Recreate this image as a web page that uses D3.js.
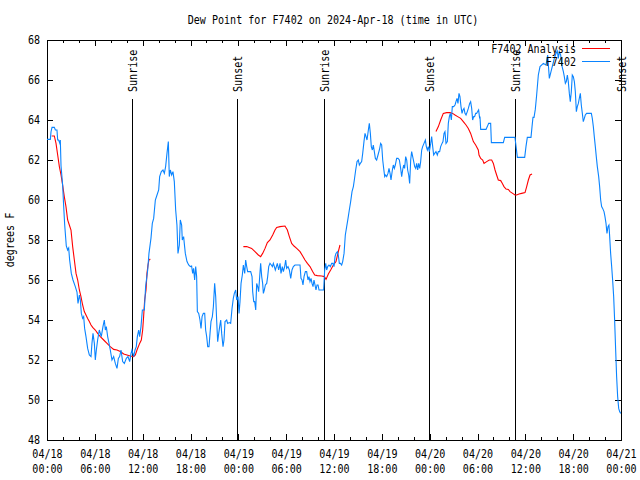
<!DOCTYPE html>
<html><head><meta charset="utf-8">
<script src="https://cdn.jsdelivr.net/npm/d3@7"></script>
<style>body{margin:0;background:#fff}svg{display:block}</style>
</head><body><svg id="c" width="640" height="480"></svg>
<script>
const chartTitle = "Dew Point for F7402 on 2024-Apr-18 (time in UTC)";
const yAxisLabel = "degrees F";
const startTime = Date.UTC(2024, 3, 18, 0, 0, 0);
const seriesNames = ["F7402 Analysis", "F7402"];
const seriesColors = ["#ff0000", "#0a84ff"];

// F7402 observations: hours since 04/18 00:00 UTC, dew point (F)
const obsHours = [0.00,0.42,0.50,0.63,0.92,1.05,1.25,1.34,1.46,1.59,1.67,1.76,1.96,2.09,2.22,2.42,2.59,2.72,2.84,3.05,3.26,3.55,3.76,3.89,4.06,4.18,4.31,4.47,4.60,4.72,4.89,5.10,5.31,5.52,5.64,5.77,5.94,6.06,6.19,6.35,6.56,6.81,7.02,7.19,7.32,7.44,7.61,7.78,7.94,8.15,8.36,8.57,8.78,8.95,9.11,9.28,9.49,9.70,9.95,10.16,10.37,10.54,10.66,10.87,11.04,11.20,11.33,11.50,11.62,11.79,11.96,12.21,12.37,12.63,12.79,13.04,13.21,13.38,13.59,13.80,14.01,14.13,14.34,14.55,14.72,14.88,15.05,15.22,15.34,15.47,15.64,15.80,15.97,16.14,16.30,16.43,16.60,16.72,16.89,16.97,17.14,17.22,17.35,17.56,17.77,17.98,18.14,18.27,18.39,18.52,18.65,18.77,18.86,19.03,19.19,19.32,19.45,19.61,19.78,19.90,20.03,20.16,20.32,20.45,20.57,20.74,20.87,21.03,21.16,21.28,21.41,21.54,21.66,21.79,21.91,22.08,22.20,22.33,22.54,22.66,22.87,23.04,23.21,23.37,23.50,23.67,23.79,23.96,24.09,24.21,24.34,24.50,24.63,24.80,24.92,25.05,25.17,25.34,25.55,25.72,25.80,25.93,26.05,26.18,26.30,26.43,26.55,26.68,26.80,26.93,27.05,27.14,27.26,27.39,27.56,27.68,27.81,27.97,28.14,28.27,28.39,28.52,28.64,28.77,28.89,29.06,29.23,29.35,29.52,29.65,29.81,29.94,30.06,30.23,30.40,30.57,30.73,30.90,31.11,31.32,31.53,31.74,31.86,31.99,32.11,32.24,32.41,32.57,32.74,32.86,32.99,33.12,33.24,33.37,33.49,33.62,33.74,33.87,34.00,34.12,34.33,34.54,34.70,34.83,34.96,35.08,35.21,35.37,35.54,35.71,35.87,36.00,36.13,36.25,36.42,36.54,36.67,36.80,36.96,37.09,37.26,37.42,37.59,37.76,37.92,38.09,38.26,38.43,38.55,38.72,38.89,39.05,39.18,39.30,39.47,39.60,39.76,39.89,40.02,40.14,40.31,40.43,40.56,40.68,40.81,40.93,41.06,41.19,41.35,41.52,41.69,41.85,41.98,42.11,42.23,42.36,42.48,42.61,42.77,42.90,43.03,43.15,43.32,43.44,43.57,43.69,43.86,44.03,44.20,44.36,44.49,44.61,44.74,44.86,44.99,45.12,45.24,45.37,45.49,45.62,45.74,45.87,46.00,46.12,46.25,46.37,46.50,46.62,46.75,46.87,47.00,47.12,47.29,47.46,47.58,47.71,47.83,47.96,48.13,48.25,48.38,48.50,48.63,48.79,48.96,49.09,49.25,49.38,49.55,49.67,49.80,49.92,50.05,50.22,50.34,50.47,50.59,50.72,50.84,51.01,51.18,51.30,51.43,51.55,51.68,51.80,51.93,52.06,52.18,52.31,52.43,52.56,52.72,52.85,53.02,53.14,53.27,53.39,53.52,53.64,53.77,53.89,54.02,54.14,54.27,54.31,54.40,54.73,55.07,55.23,55.40,55.65,55.74,56.20,56.82,57.24,57.41,57.87,58.29,58.70,58.83,59.00,59.41,59.92,60.08,60.25,60.50,60.71,60.84,60.96,61.09,61.25,61.42,61.63,61.84,62.26,62.59,62.80,63.01,63.22,63.43,63.64,63.85,64.01,64.14,64.26,64.43,64.56,64.77,64.89,65.02,65.14,65.27,65.39,65.52,65.64,65.77,65.89,66.02,66.15,66.27,66.40,66.52,66.65,66.77,66.90,67.02,67.15,67.27,67.40,67.52,67.69,67.90,68.11,68.28,68.40,68.53,68.65,68.78,68.90,69.03,69.20,69.32,69.45,69.57,69.70,69.87,69.99,70.12,70.24,70.37,70.49,70.58,70.70,70.83,70.95,71.08,71.20,71.33,71.45,71.58,71.71,71.83,71.96];
const obsDew = [63.03,63.03,63.4,63.63,63.63,63.5,63.5,63.0,63.0,62.85,63.0,61.7,60.75,59.7,58.75,57.7,57.5,57.6,57.0,56.33,56.0,55.67,55.4,54.83,55.25,55.0,54.33,54.08,54.17,53.58,53.17,52.58,52.25,52.17,52.83,53.33,52.83,52.0,52.5,53.0,53.5,53.17,53.67,54.0,53.5,53.67,53.17,52.83,52.5,52.0,52.17,51.83,51.58,52.08,52.17,52.5,51.92,51.83,52.08,52.17,51.92,52.33,52.5,52.17,52.5,52.67,53.17,53.5,53.17,53.67,54.5,54.5,55.67,56.5,57.33,58.08,58.83,59.08,60.0,60.25,60.5,61.17,61.42,61.5,61.33,61.67,62.33,62.92,61.17,61.5,61.25,61.42,60.92,59.5,58.75,57.33,57.75,59.0,58.75,58.0,58.17,57.83,57.33,56.92,56.75,56.67,56.7,56.33,56.58,56.0,56.67,56.17,54.42,54.33,54.0,53.58,54.17,54.33,54.33,53.5,53.17,52.67,52.67,53.33,53.92,54.17,54.67,55.83,55.17,54.0,52.92,53.33,53.67,54.0,53.33,52.67,53.0,53.92,54.0,53.83,53.87,53.83,54.58,55.08,55.33,55.5,55.0,55.17,54.33,54.92,55.83,56.25,56.75,56.33,57.0,56.67,56.42,56.42,56.42,56.17,55.42,54.92,54.92,54.5,55.83,55.67,55.42,56.17,56.83,56.17,55.83,55.33,55.5,55.75,55.83,56.17,56.67,56.83,56.75,56.67,56.83,56.67,56.5,56.67,56.83,56.5,56.83,56.33,56.67,56.42,56.67,57.0,56.58,56.67,56.5,56.08,56.5,56.67,56.75,56.75,56.75,56.75,56.08,56.0,55.75,56.17,56.42,56.42,56.0,56.17,55.92,56.08,55.83,55.67,56.0,55.75,55.5,55.75,55.75,55.5,55.5,55.5,55.5,56.5,56.83,56.5,56.67,56.75,56.67,56.83,56.83,56.67,57.17,57.33,57.42,57.25,56.83,56.83,56.75,56.92,57.33,58.25,58.67,59.08,59.5,59.92,60.42,60.67,61.0,61.5,61.92,62.0,61.75,61.83,61.92,62.33,62.92,63.33,63.17,63.0,63.5,63.83,63.33,62.67,62.5,62.75,62.42,62.08,62.0,62.25,62.5,62.83,62.75,62.0,61.58,61.17,61.25,61.17,61.33,61.58,61.33,61.0,61.5,61.75,61.58,61.75,62.08,62.08,62.0,61.58,61.17,61.5,61.75,61.58,62.17,62.0,61.5,61.25,60.83,62.0,62.42,62.17,61.92,61.67,61.58,61.83,61.5,61.83,61.58,61.92,62.5,62.67,62.83,63.0,62.67,62.5,62.67,62.42,62.83,63.17,62.67,62.25,62.33,62.42,62.25,62.42,62.42,62.67,62.83,62.92,63.33,63.42,62.83,62.92,63.83,64.17,64.33,64.0,64.67,64.67,64.75,64.92,65.08,64.83,65.33,65.17,64.67,64.33,64.5,64.58,64.33,64.25,64.42,64.58,64.83,64.92,64.58,64.0,64.17,64.17,64.33,64.33,64.42,64.5,64.08,64.17,63.53,63.53,63.53,63.67,63.83,63.83,62.87,62.87,62.87,62.87,63.13,63.13,63.13,63.13,62.7,62.13,62.13,62.13,62.67,63.13,63.13,63.13,63.67,64.13,64.13,64.53,65.25,66.25,66.67,66.83,66.75,67.25,66.08,66.42,66.75,67.08,67.33,67.45,67.08,67.42,67.25,66.75,66.42,66.17,65.83,65.92,66.25,65.92,65.33,64.92,65.42,66.25,66.17,65.92,65.42,64.42,64.67,64.83,65.08,65.33,64.75,64.33,63.92,64.08,64.25,64.33,64.33,64.33,64.33,64.08,63.67,63.17,62.67,62.17,61.67,61.17,60.67,60.0,59.67,59.58,59.42,59.17,58.83,58.33,58.67,58.75,58.17,57.33,56.67,56.0,55.17,54.0,52.5,51.17,50.17,49.58,49.42,49.33];

// F7402 Analysis (null = gap between analysis runs)
const anaHours = [0.59,0.92,1.13,1.34,1.55,1.76,1.96,2.17,2.38,2.59,2.80,3.01,3.22,3.43,3.64,3.85,4.06,4.26,4.47,4.68,4.89,5.10,5.31,5.52,5.73,6.06,6.35,6.69,7.11,7.53,7.94,8.36,8.78,9.20,9.62,10.03,10.45,10.87,11.08,11.29,11.62,11.83,12.00,12.12,12.25,12.42,12.54,12.67,12.79,12.96,
 null,
 24.63,25.05,25.67,26.09,26.51,26.80,27.05,27.35,27.64,27.97,28.31,28.60,28.81,29.23,29.85,30.15,30.40,30.69,30.98,31.32,31.74,32.07,32.36,32.66,32.99,33.32,33.58,33.91,34.45,34.79,35.00,35.29,35.58,35.92,36.25,36.54,36.75,
 null,
 48.79,49.09,49.38,49.71,50.13,50.55,50.88,51.18,51.51,51.89,52.22,52.56,52.85,53.14,53.48,53.77,54.10,54.19,54.40,54.65,54.82,55.15,55.48,55.78,55.99,56.20,56.40,56.61,56.91,57.12,57.32,57.58,57.87,58.08,58.41,58.70,58.91,59.21,59.54,59.96,60.17,60.38,60.59,60.84];
const anaDew = [63.2,63.2,62.83,62.25,61.67,61.25,60.75,60.17,59.67,59.0,58.75,58.5,57.67,57.0,56.33,56.0,55.5,55.17,54.75,54.42,54.25,54.08,53.92,53.75,53.63,53.5,53.33,53.17,53.0,52.83,52.67,52.53,52.5,52.42,52.3,52.25,52.2,52.17,52.25,52.5,52.83,53.0,53.5,54.17,55.0,55.5,56.33,56.75,57.0,57.05,
 null,
 57.67,57.67,57.58,57.42,57.25,57.17,57.33,57.58,57.87,58.0,58.25,58.5,58.63,58.67,58.7,58.5,58.17,57.83,57.7,57.58,57.42,57.2,57.0,56.83,56.67,56.42,56.25,56.22,56.2,56.17,56.03,56.3,56.5,56.75,56.92,57.42,57.75,
 null,
 63.42,63.67,64.0,64.33,64.37,64.37,64.33,64.25,64.17,64.08,63.92,63.75,63.58,63.33,62.92,62.75,62.5,62.25,62.08,62.0,61.83,61.92,62.0,62.0,61.83,61.5,61.25,61.0,60.97,60.83,60.67,60.55,60.53,60.42,60.33,60.25,60.25,60.3,60.33,60.37,60.67,61.0,61.25,61.3];

// Sunrise / sunset markers
const sunLabels = ["Sunrise","Sunset","Sunrise","Sunset","Sunrise","Sunset"];
const sunHours = [10.70, 23.87, 34.79, 47.96, 58.75, 72.0];

const yTickValues = [48,50,52,54,56,58,60,62,64,66,68];
const xMajorHours = [0,6,12,18,24,30,36,42,48,54,60,66,72];
const xMinorHours = [2,4,8,10,14,16,20,22,26,28,32,34,38,40,44,46,50,52,56,58,62,64,68,70];

const FONT = "'DejaVu Sans Mono','Liberation Mono',monospace";
const FS = 11.5;
const SX = 0.875; // horizontal squeeze to mimic narrow bitmap font
const toDate = h => new Date(startTime + h * 3600000);

const L = 47, R = 621, T = 40, B = 440;
const svg = d3.select("#c");
const x = d3.scaleUtc().domain([toDate(0), toDate(72)]).range([L, R]);
const y = d3.scaleLinear().domain([48, 68]).range([B, T]);

const fmtD = d3.utcFormat("%m/%d"), fmtT = d3.utcFormat("%H:%M");

function styleAxis(g) {
  g.attr("font-family", FONT).attr("font-size", FS);
  g.select(".domain").remove();
  g.selectAll(".tick line").attr("stroke", "#000").attr("shape-rendering", "crispEdges");
  g.selectAll(".tick text").attr("fill", "#000");
}
function squeeze(sel, tx, ty) {
  return sel.attr("transform", `translate(${tx},${ty}) scale(${SX},1)`);
}

// bottom major with labels
svg.append("g").attr("transform", `translate(0,${B})`)
  .call(d3.axisBottom(x).tickValues(xMajorHours.map(toDate)).tickSize(-6).tickPadding(0))
  .call(styleAxis)
  .call(g => g.selectAll(".tick text").each(function(d) {
    const t = d3.select(this);
    t.text(null).attr("y", null).attr("dy", null).attr("transform", `scale(${SX},1)`);
    t.append("tspan").attr("x", 0).attr("y", 18).text(fmtD(d));
    t.append("tspan").attr("x", 0).attr("y", 33).text(fmtT(d));
  }));
// bottom minor
svg.append("g").attr("transform", `translate(0,${B})`)
  .call(d3.axisBottom(x).tickValues(xMinorHours.map(toDate)).tickSize(-3).tickFormat(""))
  .call(styleAxis);
// top major/minor
svg.append("g").attr("transform", `translate(0,${T})`)
  .call(d3.axisTop(x).tickValues(xMajorHours.map(toDate)).tickSize(-6).tickFormat(""))
  .call(styleAxis);
svg.append("g").attr("transform", `translate(0,${T})`)
  .call(d3.axisTop(x).tickValues(xMinorHours.map(toDate)).tickSize(-3).tickFormat(""))
  .call(styleAxis);
// left
svg.append("g").attr("transform", `translate(${L},0)`)
  .call(d3.axisLeft(y).tickValues(yTickValues).tickSize(-6).tickPadding(7))
  .call(styleAxis)
  .call(g => g.selectAll(".tick text").each(function() {
    const t = d3.select(this);
    const ax = +t.attr("x");
    t.attr("x", 0);
    squeeze(t, ax, 0);
  }));
// right
svg.append("g").attr("transform", `translate(${R},0)`)
  .call(d3.axisRight(y).tickValues(yTickValues).tickSize(-6).tickFormat(""))
  .call(styleAxis);

// border
svg.append("rect").attr("x", L).attr("y", T).attr("width", R - L).attr("height", B - T)
  .attr("fill", "none").attr("stroke", "#000").attr("shape-rendering", "crispEdges");

// sunrise / sunset lines
sunHours.forEach((h, i) => {
  const px = x(toDate(h));
  svg.append("line").attr("x1", px).attr("x2", px).attr("y1", 99).attr("y2", B)
    .attr("stroke", "#000").attr("shape-rendering", "crispEdges");
  svg.append("text").attr("transform", `translate(${px + 4.5},92) rotate(-90) scale(${SX},1)`)
    .attr("font-family", FONT).attr("font-size", FS).attr("fill", "#000")
    .text(sunLabels[i]);
});

svg.append("clipPath").attr("id", "pc").append("rect")
  .attr("x", L).attr("y", T).attr("width", R - L).attr("height", B - T);

const obs = obsHours.map((h, i) => ({ t: toDate(h), v: obsDew[i] }));
const ana = anaHours.map((h, i) => ({ t: h == null ? null : toDate(h), v: anaDew[i] }));
const line = d3.line().defined(d => d.t != null && d.v != null).x(d => x(d.t)).y(d => y(d.v));

svg.append("path").datum(ana).attr("clip-path", "url(#pc)")
  .attr("fill", "none").attr("stroke", seriesColors[0]).attr("stroke-width", 1.1).attr("d", line);
svg.append("path").datum(obs).attr("clip-path", "url(#pc)")
  .attr("fill", "none").attr("stroke", seriesColors[1]).attr("stroke-width", 1.1).attr("d", line);

// legend
const legY = [49, 62];
seriesNames.forEach((n, i) => {
  squeeze(svg.append("text"), 576, legY[i] + 4).attr("text-anchor", "end")
    .attr("font-family", FONT).attr("font-size", FS).attr("fill", "#000").text(n);
  svg.append("line").attr("x1", 582).attr("x2", 610).attr("y1", legY[i] - 0.5).attr("y2", legY[i] - 0.5)
    .attr("stroke", seriesColors[i]).attr("stroke-width", 1);
});

// title and y label
squeeze(svg.append("text"), 333, 24).attr("text-anchor", "middle")
  .attr("font-family", FONT).attr("font-size", FS).attr("fill", "#000").text(chartTitle);
svg.append("text").attr("transform", `translate(14,240) rotate(-90) scale(${SX},1)`).attr("text-anchor", "middle")
  .attr("font-family", FONT).attr("font-size", FS).attr("fill", "#000").text(yAxisLabel);
</script></body></html>
